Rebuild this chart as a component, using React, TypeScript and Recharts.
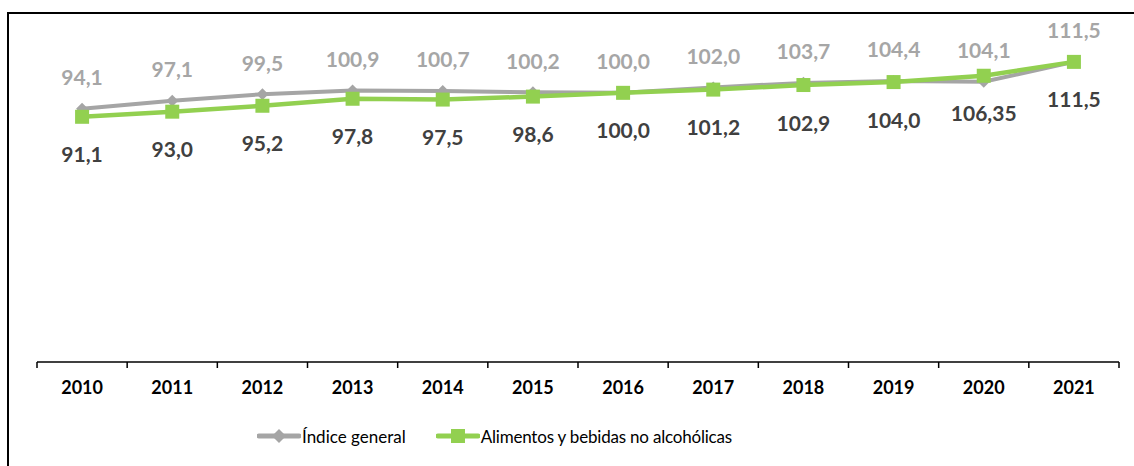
import { LineChart, Line, XAxis, YAxis, LabelList, Legend } from 'recharts';

const YEARS = ['2010', '2011', '2012', '2013', '2014', '2015', '2016', '2017', '2018', '2019', '2020', '2021'];
const GENERAL = [94.1, 97.1, 99.5, 100.9, 100.7, 100.2, 100.0, 102.0, 103.7, 104.4, 104.1, 111.5];
const ALIMENTOS = [91.1, 93.0, 95.2, 97.8, 97.5, 98.6, 100.0, 101.2, 102.9, 104.0, 106.35, 111.5];

const GRAY = '#A5A5A5';
const GREEN = '#92D050';
const FONT = 'Lato, "Open Sans", sans-serif';

const data = YEARS.map((year, i) => ({
  idx: i,
  year,
  general: GENERAL[i],
  alimentos: ALIMENTOS[i],
}));

// year centres plus category boundaries (for the small tick marks)
const TICKS: number[] = [];
for (let i = 0; i <= YEARS.length; i++) {
  TICKS.push(i - 0.5);
  if (i < YEARS.length) TICKS.push(i);
}

const fmt = (v: number) =>
  (Number.isInteger(Math.round(v * 100) / 10) ? v.toFixed(1) : v.toFixed(2)).replace('.', ',');

const YearTick = (props: any) => {
  const { x, y, payload } = props;
  const v = payload.value as number;
  if (!Number.isInteger(v)) {
    return <line x1={x} x2={x} y1={y} y2={y + 6} stroke="#000" strokeWidth={1.5} />;
  }
  return (
    <text x={x} y={y + 32} textAnchor="middle" fontFamily={FONT} fontSize={18} fontWeight={700} fill="#000">
      {YEARS[v]}
    </text>
  );
};

const Diamond = (props: any) => {
  const { cx, cy } = props;
  if (cx == null || cy == null) return null;
  const r = 6;
  return <path d={`M${cx},${cy - r}L${cx + r},${cy}L${cx},${cy + r}L${cx - r},${cy}Z`} fill={GRAY} />;
};

const Square = (props: any) => {
  const { cx, cy } = props;
  if (cx == null || cy == null) return null;
  const s = 14;
  return <rect x={cx - s / 2} y={cy - s / 2} width={s} height={s} fill={GREEN} />;
};

const makeLabel = (dy: number, color: string) => (props: any) => {
  const { x, y, value } = props;
  return (
    <text
      x={x}
      y={y + dy}
      textAnchor="middle"
      dominantBaseline="central"
      fontFamily={FONT}
      fontSize={21}
      fontWeight={700}
      fill={color}
    >
      {fmt(Number(value))}
    </text>
  );
};

const LegendContent = () => (
  <div style={{ display: 'flex', alignItems: 'center', fontFamily: FONT, fontSize: 17, color: '#000', whiteSpace: 'nowrap' }}>
    <svg width={44} height={16}>
      <line x1={2} x2={42} y1={8} y2={8} stroke={GRAY} strokeWidth={5} strokeLinecap="round" />
      <path d="M22,1L29,8L22,15L15,8Z" fill={GRAY} />
    </svg>
    <span style={{ marginLeft: 1 }}>Índice general</span>
    <svg width={44} height={16} style={{ marginLeft: 30 }}>
      <line x1={2} x2={42} y1={8} y2={8} stroke={GREEN} strokeWidth={5} strokeLinecap="round" />
      <rect x={15} y={1} width={14} height={14} fill={GREEN} />
    </svg>
    <span style={{ marginLeft: 1, letterSpacing: -0.2 }}>Alimentos y bebidas no alcohólicas</span>
  </div>
);

export default function App() {
  return (
    <div style={{ position: 'absolute', left: 0, top: 0, width: 1134, height: 466, overflow: 'hidden', background: '#fff' }}>
      <div
        style={{
          position: 'absolute',
          left: 7,
          top: 12,
          width: 1140,
          height: 470,
          borderTop: '2px solid #000',
          borderLeft: '2px solid #000',
        }}
      />
      <div style={{ position: 'absolute', left: 0, top: 0 }}>
        <LineChart width={1134} height={466} data={data} margin={{ top: 39, right: 15, bottom: 34, left: 37 }}>
          <XAxis
            dataKey="idx"
            type="number"
            domain={[-0.5, 11.5]}
            ticks={TICKS}
            interval={0}
            tick={<YearTick />}
            tickLine={false}
            tickSize={0}
            tickMargin={0}
            height={40}
            axisLine={{ stroke: '#000', strokeWidth: 1.5 }}
          />
          <YAxis hide domain={[0, 120]} />
          <Legend
            content={<LegendContent />}
            wrapperStyle={{ position: 'absolute', top: 421, left: 257, bottom: 'auto', width: 'auto', height: 30, display: 'flex', alignItems: 'center' }}
          />
          <Line
            dataKey="general"
            name="Índice general"
            stroke={GRAY}
            strokeWidth={4}
            dot={<Diamond />}
            activeDot={false}
            isAnimationActive={false}
          >
            <LabelList dataKey="general" content={makeLabel(-32, '#A6A6A6')} />
          </Line>
          <Line
            dataKey="alimentos"
            name="Alimentos y bebidas no alcohólicas"
            stroke={GREEN}
            strokeWidth={4.5}
            dot={<Square />}
            activeDot={false}
            isAnimationActive={false}
          >
            <LabelList dataKey="alimentos" content={makeLabel(37, '#404040')} />
          </Line>
        </LineChart>
      </div>
    </div>
  );
}
